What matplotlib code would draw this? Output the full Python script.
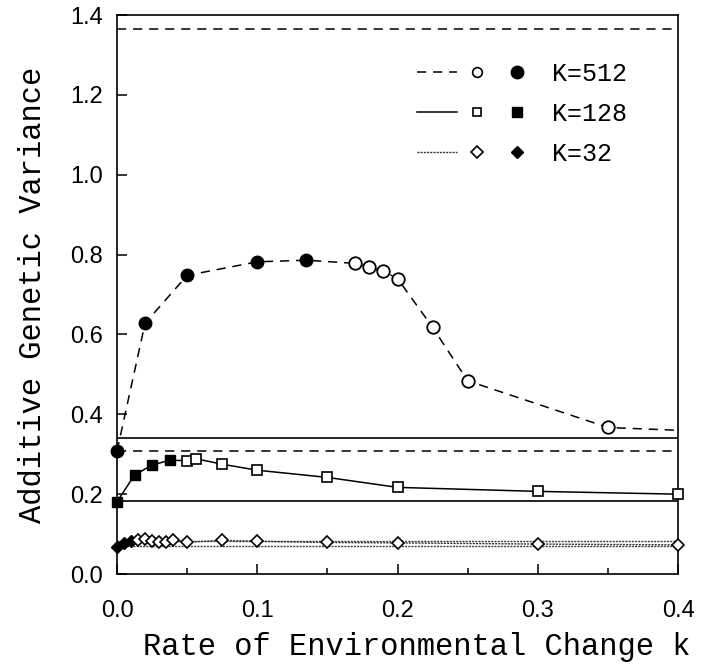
import matplotlib
matplotlib.use("Agg")
import matplotlib.pyplot as plt
from matplotlib.lines import Line2D
from matplotlib.legend_handler import HandlerTuple
from matplotlib.ticker import MultipleLocator

# K=512 (circles)
x512_filled = [0.0, 0.02, 0.05, 0.1, 0.135]
v512_filled = [0.308, 0.628, 0.748, 0.782, 0.786]
x512_open = [0.17, 0.18, 0.19, 0.2, 0.225, 0.25, 0.35]
v512_open = [0.778, 0.768, 0.758, 0.740, 0.618, 0.484, 0.367]
x512_end = [0.4]
v512_end = [0.360]
bounds512 = [1.365, 0.308]

# K=128 (squares)
x128_filled = [0.0, 0.0125, 0.025, 0.0375]
v128_filled = [0.181, 0.248, 0.273, 0.285]
x128_open = [0.05, 0.056, 0.075, 0.1, 0.15, 0.2, 0.3, 0.4]
v128_open = [0.284, 0.289, 0.275, 0.260, 0.242, 0.217, 0.207, 0.200]
bounds128 = [0.341, 0.183]

# K=32 (diamonds)
x32_filled = [0.0, 0.005, 0.01]
v32_filled = [0.068, 0.077, 0.082]
x32_open = [0.015, 0.02, 0.025, 0.03, 0.035, 0.04, 0.05, 0.075, 0.1, 0.15, 0.2, 0.3, 0.4]
v32_open = [0.085, 0.087, 0.083, 0.080, 0.080, 0.085, 0.080, 0.084, 0.082, 0.079, 0.078, 0.075, 0.073]
bounds32 = [0.083, 0.071]

labels = ["K=512", "K=128", "K=32"]

fig = plt.figure(figsize=(7.07, 6.67), dpi=100)
ax = fig.add_axes([0.1655, 0.1394, 0.7935, 0.838])

dash = (0, (6, 4.5))
dot = (0, (1.5, 0.8))

# bounds
for b in bounds512:
    ax.axhline(b, color="k", lw=1.1, ls=dash, zorder=1)
for b in bounds128:
    ax.axhline(b, color="k", lw=1.2, zorder=1)
for b in bounds32:
    ax.axhline(b, color="0.25", lw=1.0, ls=dot, zorder=1)

# K=512
ax.plot(x512_filled + x512_open + x512_end, v512_filled + v512_open + v512_end,
        color="k", lw=1.1, ls=dash, zorder=2)
ax.plot(x512_filled, v512_filled, "o", ms=9, mfc="k", mec="k", zorder=3, clip_on=False)
ax.plot(x512_open, v512_open, "o", ms=9, mfc="white", mec="k", mew=1.3, zorder=3)

# K=128
ax.plot(x128_filled + x128_open, v128_filled + v128_open, color="k", lw=1.1, zorder=2)
ax.plot(x128_filled, v128_filled, "s", ms=7, mfc="k", mec="k", zorder=3, clip_on=False)
ax.plot(x128_open, v128_open, "s", ms=7, mfc="white", mec="k", mew=1.2, zorder=3, clip_on=False)

# K=32
ax.plot(x32_filled + x32_open, v32_filled + v32_open, color="0.2", lw=1.0, ls=dot, zorder=2)
ax.plot(x32_filled, v32_filled, "D", ms=6, mfc="k", mec="k", zorder=3, clip_on=False)
ax.plot(x32_open, v32_open, "D", ms=6, mfc="white", mec="k", mew=1.2, zorder=3, clip_on=False)

ax.set_xlim(0, 0.4)
ax.set_ylim(0, 1.4)
ax.xaxis.set_major_locator(MultipleLocator(0.1))
ax.xaxis.set_minor_locator(MultipleLocator(0.05))
ax.yaxis.set_major_locator(MultipleLocator(0.2))
ax.xaxis.set_major_formatter(plt.FuncFormatter(lambda v, p: "%.1f" % v))
ax.yaxis.set_major_formatter(plt.FuncFormatter(lambda v, p: "%.1f" % v))
ax.tick_params(which="major", direction="in", length=7, width=1.1, labelsize=17, pad=10)
ax.tick_params(axis="x", which="major", pad=19)
ax.tick_params(which="minor", direction="in", length=4, width=1.1)
for t in ax.get_xticklabels() + ax.get_yticklabels():
    t.set_family("Liberation Sans")
for s in ax.spines.values():
    s.set_linewidth(1.2)

ax.set_xlabel("Rate of Environmental Change k", family="Liberation Mono", fontsize=22, labelpad=7)
ax.xaxis.label.set_x(0.535)
ax.set_ylabel("Additive Genetic Variance", family="Liberation Mono", fontsize=22, labelpad=16)

handles = [
    (Line2D([], [], color="k", lw=1.1, ls=dash),
     Line2D([], [], ls="none", marker="o", ms=7, mfc="white", mec="k", mew=1.2),
     Line2D([], [], ls="none", marker="o", ms=9, mfc="k", mec="k")),
    (Line2D([], [], color="k", lw=1.1),
     Line2D([], [], ls="none", marker="s", ms=6, mfc="white", mec="k", mew=1.2),
     Line2D([], [], ls="none", marker="s", ms=7, mfc="k", mec="k")),
    (Line2D([], [], color="0.2", lw=1.0, ls=dot),
     Line2D([], [], ls="none", marker="D", ms=6, mfc="white", mec="k", mew=1.2),
     Line2D([], [], ls="none", marker="D", ms=6, mfc="k", mec="k")),
]
ax.legend(handles, labels, handler_map={tuple: HandlerTuple(ndivide=None, pad=0)},
          loc="upper left", bbox_to_anchor=(0.535, 0.9166), borderaxespad=0, borderpad=0,
          frameon=False, handlelength=4.8, handletextpad=0.6, labelspacing=0.64,
          prop={"family": "Liberation Mono", "size": 18})

fig.savefig("out.png", dpi=100)
